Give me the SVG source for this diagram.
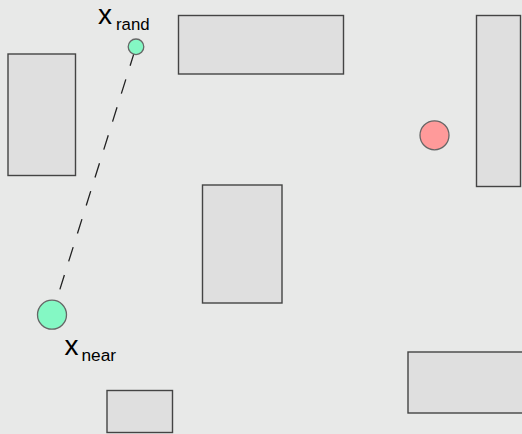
<svg xmlns="http://www.w3.org/2000/svg" width="522" height="434" viewBox="0 0 522 434">
<style>
.obs{fill:#dfdfdf;stroke:#444;stroke-width:1.4}
.node{stroke:#666;stroke-width:1.3}
.green{fill:#84f8c4}
.red{fill:#ff9a9a}
.lbl{font-family:"Liberation Sans",Arial,sans-serif;fill:#000}
.edge{stroke:#222;stroke-width:1.3;stroke-dasharray:15 14.3;fill:none}
</style>
<rect width="522" height="434" fill="#e8e9e8"/>
<g id="obstacles">
<rect id="obs1" class="obs" x="8" y="54" width="67.5" height="121.5"/>
<rect id="obs2" class="obs" x="178.5" y="15.5" width="165" height="58.5"/>
<rect id="obs3" class="obs" x="476.5" y="15.5" width="44" height="171"/>
<rect id="obs4" class="obs" x="202.5" y="185" width="79.5" height="118"/>
<rect id="obs5" class="obs" x="107" y="390.5" width="65.5" height="42"/>
<rect id="obs6" class="obs" x="408" y="352" width="120" height="61"/>
</g>
<g id="connectors">
<line class="edge" x1="134.6" y1="51.4" x2="52" y2="314.5"/>
</g>
<g id="x_rand">
<circle class="node green" cx="136" cy="46.8" r="7.8"/>
<text class="lbl" x="98" y="23.5" font-size="28">x</text>
<text class="lbl" x="116" y="30" font-size="16.8">rand</text>
</g>
<g id="x_near">
<circle class="node green" cx="52" cy="314.7" r="14.5"/>
<text class="lbl" x="64.5" y="354.5" font-size="28">x</text>
<text class="lbl" x="81.5" y="361" font-size="17.3">near</text>
</g>
<g id="goal">
<circle class="node red" cx="434.5" cy="135.3" r="14.5"/>
</g>
</svg>
